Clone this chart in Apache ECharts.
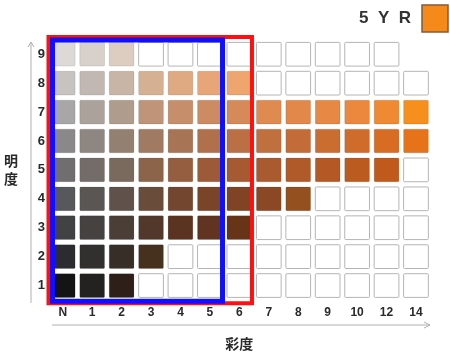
<!DOCTYPE html>
<html>
<head>
<meta charset="utf-8">
<script src="https://cdn.jsdelivr.net/npm/echarts@6/dist/echarts.min.js"></script>
<style>html,body{margin:0;padding:0;background:#fff}#c{width:450px;height:356px}</style>
</head>
<body>
<div id="c"></div>
<script>
// Chroma (彩度) categories and value (明度) categories
const chroma = ['N','1','2','3','4','5','6','7','8','9','10','12','14'];
const value = ['1','2','3','4','5','6','7','8','9'];
// Colour of each chip per value row ('' = empty outlined chip, null = no chip)
const value9 = ['#dcd9d6','#d8d0ca','#dccdc0','','','','','','','','','',null];
const value8 = ['#c6c3c1','#c2b8b2','#c8b5a6','#d6b092','#dfa982','#e7a578','#efa66e','','','','','',''];
const value7 = ['#a8a6a6','#aca29c','#b09c8c','#bf9479','#c78e6c','#cc8b63','#d68a5a','#de8a51','#e2884a','#e78944','#eb883e','#f08a32','#f78f1c'];
const value6 = ['#8a8888','#8e8680','#948070','#a07a62','#a87456','#b0704c','#ba6f44','#c06f3e','#c46c38','#ca6d31','#cf6c2b','#d76c22','#e6731a'];
const value5 = ['#706e6e','#746c68','#7a6a5e','#8c6449','#955e40','#9c5a38','#a65a31','#aa5a2f','#b05a2a','#b45825','#bb5b20','#c05a1c',''];
const value4 = ['#56585c','#5a5654','#60524a','#6a4c3a','#734630','#7a4428','#804424','#8a4924','#94501e','','','',''];
const value3 = ['#404244','#45423f','#4a3e36','#52382a','#5b3421','#603420','#683418','','','','','',''];
const value2 = ['#2c2c30','#32302e','#382e28','#46301e','','','','','','','','',''];
const value1 = ['#141414','#242220','#2e2018','','','','','','','','','',''];
const rows = [value1,value2,value3,value4,value5,value6,value7,value8,value9];

const cells = [];
const cellColors = [];
rows.forEach((row, yi) => {
  row.forEach((col, xi) => {
    if (col === null) return;
    cells.push([xi, yi]);
    cellColors.push(col);
  });
});

// Frames: chroma range enclosed
const frames = [
  {from: 'N', to: '6', color: '#ff1010', lw: 4, pad: [0.5, -2.1, -2.8, 3.3]},
  {from: 'N', to: '5', color: '#1010ff', lw: 5, pad: [4.5, -2.1, 0.2, 1.3]}
];

const chart = echarts.init(document.getElementById('c'), null, {renderer: 'canvas'});
const txt = '#2a2a2a';
chart.setOption({
  animation: false,
  backgroundColor: '#fff',
  grid: {left: 48, right: 19.3, top: 39.8, bottom: 51.8},
  xAxis: {
    type: 'category', data: chroma,
    axisLine: {show: false}, axisTick: {show: false}, splitLine: {show: false},
    axisLabel: {margin: 7, color: txt, fontWeight: 'bold', fontSize: 12, fontFamily: 'Liberation Sans Narrow, Liberation Sans, Arial'},
    name: '彩度', nameLocation: 'middle', nameGap: 37,
    nameTextStyle: {color: txt, fontSize: 14, fontWeight: 'bold', fontFamily: 'Noto Sans CJK JP'}
  },
  yAxis: {
    type: 'category', data: value,
    axisLine: {show: false}, axisTick: {show: false}, splitLine: {show: false},
    axisLabel: {margin: 3, color: txt, fontWeight: 'bold', fontSize: 13, fontFamily: 'Liberation Sans, Arial'},
    name: '明\n度', nameLocation: 'middle', nameGap: 30, nameRotate: 0,
    nameTextStyle: {color: txt, fontSize: 14, fontWeight: 'bold', lineHeight: 18, fontFamily: 'Noto Sans CJK JP'}
  },
  series: [
    {
      type: 'custom',
      data: cells,
      encode: {x: 0, y: 1},
      renderItem: function (params, api) {
        const p = api.coord([api.value(0), api.value(1)]);
        const s = api.size([1, 1]);
        const w = s[0] * 0.84, h = s[1] * 0.82;
        const c = cellColors[params.dataIndex];
        return {
          type: 'rect',
          shape: {x: p[0] - w / 2, y: p[1] - h / 2, width: w, height: h, r: 1},
          style: c ? {fill: c, stroke: 'rgba(0,0,0,0.10)', lineWidth: 1}
                   : {fill: '#ffffff', stroke: '#b5b5b5', lineWidth: 1}
        };
      }
    },
    {
      type: 'custom',
      data: frames.map((f, i) => [chroma.indexOf(f.from), chroma.indexOf(f.to), i]),
      renderItem: function (params, api) {
        const f = frames[params.dataIndex];
        const s = api.size([1, 1]);
        const a = api.coord([api.value(0), 8]);
        const b = api.coord([api.value(1), 0]);
        const l = a[0] - s[0] / 2 + f.pad[0];
        const r = b[0] + s[0] / 2 + f.pad[1];
        const t = a[1] - s[1] / 2 + f.pad[2];
        const bt = b[1] + s[1] / 2 + f.pad[3];
        return {
          type: 'rect',
          shape: {x: l, y: t, width: r - l, height: bt - t},
          style: {fill: 'none', stroke: f.color, lineWidth: f.lw}
        };
      },
      z: 5
    }
  ],
  graphic: [
    {type: 'line', shape: {x1: 31, y1: 42, x2: 31, y2: 303}, style: {stroke: '#b0b0b0', lineWidth: 1}},
    {type: 'polyline', shape: {points: [[28, 47], [31, 42], [34, 47]]}, style: {stroke: '#b0b0b0', lineWidth: 1, fill: 'none'}},
    {type: 'line', shape: {x1: 52, y1: 325, x2: 430, y2: 325}, style: {stroke: '#b0b0b0', lineWidth: 1}},
    {type: 'polyline', shape: {points: [[424, 322], [430, 325], [424, 328]]}, style: {stroke: '#b0b0b0', lineWidth: 1, fill: 'none'}},
    {type: 'text', style: {text: '5  Y  R', x: 411, y: 18, align: 'right', verticalAlign: 'middle', fill: '#333', font: 'bold 17px "Liberation Sans", Arial'}},
    {type: 'rect', shape: {x: 422, y: 5, width: 26, height: 27}, style: {fill: '#f58a1a', stroke: '#8a5a2e', lineWidth: 1.5}}
  ]
});
</script>
</body>
</html>
